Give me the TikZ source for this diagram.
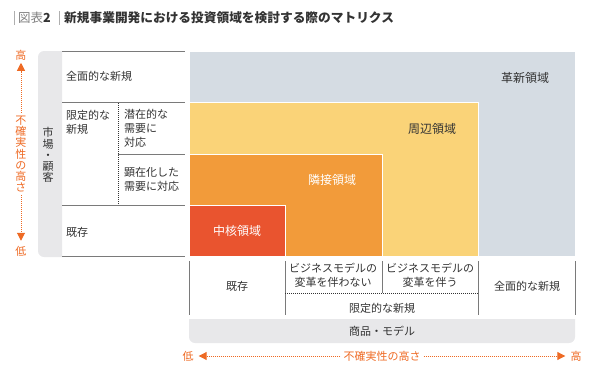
\documentclass[tikz,border=0pt]{standalone}
\usepackage{fontspec}
\setmainfont{Noto Sans CJK JP}
\usetikzlibrary{arrows.meta}

\definecolor{axisorange}{HTML}{EE6A24}
\definecolor{panelgray}{HTML}{E8E8EA}
\definecolor{rulegray}{HTML}{7A7A7A}
\definecolor{textdark}{HTML}{333333}
\definecolor{newblue}{HTML}{D5DCE3}
\definecolor{edgeyellow}{HTML}{FAD378}
\definecolor{nearorange}{HTML}{F29B3A}
\definecolor{corered}{HTML}{E9542F}

\begin{document}
\begin{tikzpicture}[x=1pt, y=-1pt, inner sep=0pt,
		every node/.style={text=textdark, font=\fontsize{11}{14}\selectfont},
		rule/.style={rulegray, line width=0.9pt},
		dotrule/.style={textdark, line width=0.8pt, dash pattern=on 0.8pt off 1.2pt},
		regionedge/.style={draw=white, line width=0.8pt},
		axislabel/.style={text=axisorange},
		vstack/.style={align=center, font=\fontsize{11}{11.2}\selectfont},
		axisarrow/.style={axisorange, line width=1pt, dash pattern=on 1pt off 1pt,
			-{Triangle[length=8pt, width=8pt]}, shorten <=3pt}]
		\useasboundingbox (0,0) rectangle (600,380);

		% title
		\draw[rulegray!60, line width=0.8pt] (14,11) -- (14,25);
		\draw[rulegray!60, line width=0.8pt] (59,11) -- (59,25);
		\node[anchor=west, font=\fontsize{12.5}{14}\selectfont] (fig) at (18,18) {\textcolor{gray}{図表}\textbf{2}};
		\node[anchor=west, font=\fontsize{12.7}{14}\selectfont\bfseries] (title) at (64,18) {新規事業開発における投資領域を検討する際のマトリクス};

		% uncertainty axes
		\node[axislabel] (hiY) at (21,55) {高};
		\node[axislabel, vstack] (uncY) at (21,154) {不\\確\\実\\性\\の\\高\\さ};
		\node[axislabel] (loY) at (21,251) {低};
		\draw[axisarrow, shorten >=2.5pt] (uncY) -- (hiY);
		\draw[axisarrow, shorten >=5pt] (uncY) -- (loY);

		\node[axislabel] (loX) at (188,356) {低};
		\node[axislabel] (uncX) at (382,356) {不確実性の高さ};
		\node[axislabel] (hiX) at (576,356) {高};
		\draw[axisarrow, shorten >=5pt] (uncX) -- (loX);
		\draw[axisarrow, shorten >=5pt] (uncX) -- (hiX);

		% market / customer rows
		\fill[panelgray] (62,51) [rounded corners=6pt] -- (38,51) -- (38,257) [sharp corners] -- (62,257) -- cycle;
		\node[vstack] (market) at (48,155) {市\\場\\・\\顧\\客};
		\draw[rule] (62,51) -- (185,51);
		\draw[rule] (62,102) -- (185,102);
		\draw[rule] (118,154) -- (185,154);
		\draw[rule] (62,205) -- (185,205);
		\draw[rule] (62,256) -- (185,256);
		\draw[dotrule] (118,103) -- (118,205);
		\node[anchor=west] (rowAll) at (66,76) {全面的な新規};
		\node[anchor=west, align=left] (rowLtd) at (66,122) {限定的な\\新規};
		\node[anchor=west, align=left] (rowLatent) at (124,128) {潜在的な\\需要に\\対応};
		\node[anchor=west, align=left] (rowOvert) at (124,179) {顕在化した\\需要に対応};
		\node[anchor=west] (rowExist) at (66,232) {既存};

		% investment regions
		\draw[regionedge, fill=newblue] (189,51) rectangle (575,256);
		\draw[regionedge, fill=edgeyellow] (189,102) rectangle (478,256);
		\draw[regionedge, fill=nearorange] (189,154) rectangle (382,256);
		\draw[regionedge, fill=corered] (189,205) rectangle (285,256);
		\node[font=\fontsize{12}{14}\selectfont] (innov) at (525,78) {革新領域};
		\node[font=\fontsize{12}{14}\selectfont] (periph) at (432,129) {周辺領域};
		\node[font=\fontsize{12}{14}\selectfont, text=white] (adjac) at (332,180) {隣接領域};
		\node[font=\fontsize{12}{14}\selectfont, text=white] (core) at (237,231) {中核領域};

		% product / model columns
		\draw[rule] (189,261) -- (189,315);
		\draw[rule] (285,261) -- (285,315);
		\draw[rule] (382,261) -- (382,293);
		\draw[rule] (478,261) -- (478,315);
		\draw[rule] (575,261) -- (575,315);
		\draw[dotrule] (285,293) -- (478,293);
		\node (colExist) at (237,286) {既存};
		\node[align=center] (colKeep) at (333,275) {ビジネスモデルの\\変革を伴わない};
		\node[align=center] (colChange) at (430,275) {ビジネスモデルの\\変革を伴う};
		\node (colAll) at (527,286) {全面的な新規};
		\node (colLtd) at (382,308) {限定的な新規};
		\fill[panelgray] (189,319) [rounded corners=6pt] -- (189,343) -- (575,343) [sharp corners] -- (575,319) -- cycle;
		\node (product) at (382,331) {商品・モデル};
\end{tikzpicture}
\end{document}
